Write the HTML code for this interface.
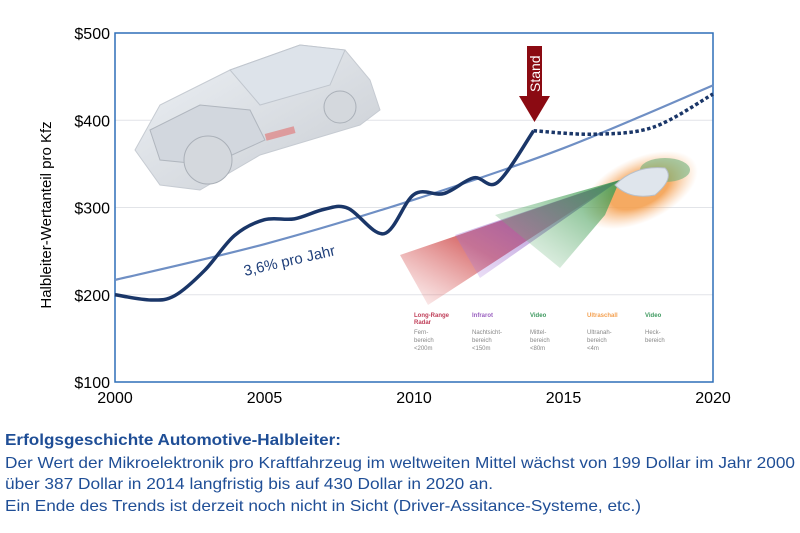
<!DOCTYPE html>
<html><head><meta charset="utf-8"><style>
html,body{margin:0;padding:0;background:#fff;}
svg{display:block;font-family:"Liberation Sans",Arial,sans-serif;}
</style></head><body>
<svg id="chart" width="800" height="533" viewBox="0 0 800 533">
<defs>
<linearGradient id="gRed" x1="1" y1="0" x2="0" y2="1"><stop offset="0" stop-color="#b83a60" stop-opacity="0.95"/><stop offset="0.6" stop-color="#d05050" stop-opacity="0.8"/><stop offset="1" stop-color="#e07070" stop-opacity="0.05"/></linearGradient>
<linearGradient id="gPur" x1="1" y1="0" x2="0" y2="1"><stop offset="0" stop-color="#6a3fa0" stop-opacity="0.95"/><stop offset="1" stop-color="#b080e0" stop-opacity="0.2"/></linearGradient>
<linearGradient id="gGrn" x1="1" y1="0" x2="0" y2="1"><stop offset="0" stop-color="#3f9a50" stop-opacity="0.9"/><stop offset="1" stop-color="#80c090" stop-opacity="0.05"/></linearGradient>
<radialGradient id="gOr" cx="0.5" cy="0.5" r="0.5"><stop offset="0.5" stop-color="#f4a050" stop-opacity="0.9"/><stop offset="1" stop-color="#f8c090" stop-opacity="0"/></radialGradient>
<linearGradient id="gCar" x1="0" y1="0" x2="1" y2="1"><stop offset="0" stop-color="#eef2f6"/><stop offset="1" stop-color="#c8ccd2"/></linearGradient>
</defs>
<g id="grid"></g>

<g>
<path d="M135,150 L160,105 L230,70 L300,45 L345,50 L370,80 L380,110 L360,125 L260,155 L200,190 L160,185 Z" fill="url(#gCar)" stroke="#c6cbd2"/>
<path d="M230,70 L300,45 L345,50 L330,85 L260,105 Z" fill="#dde3ea" stroke="#c0c6ce"/>
<path d="M150,130 L200,105 L250,110 L265,140 L210,165 L160,160 Z" fill="#d2d7de" stroke="#b0b6be"/>
<circle cx="208" cy="160" r="24" fill="#d4d8dd" stroke="#aab0b8"/>
<circle cx="340" cy="107" r="16" fill="#d4d8dd" stroke="#aab0b8"/>
<rect x="265" y="130" width="30" height="7" fill="#e08080" opacity="0.7" transform="rotate(-15 280 133)"/>
</g>

<g>
<ellipse cx="640" cy="190" rx="62" ry="32" fill="url(#gOr)" transform="rotate(-25 640 190)"/>
<ellipse cx="665" cy="170" rx="25" ry="12" fill="#6fb07a" opacity="0.6"/>
<polygon points="620,180 400,255 428,305" fill="url(#gRed)"/>
<polygon points="620,180 455,235 480,278" fill="url(#gPur)"/>
<polygon points="620,180 495,215 560,268 605,215" fill="url(#gGrn)"/>
<path d="M615,185 Q635,165 665,168 Q675,178 655,195 Q630,200 615,185 Z" fill="#dfe5ec" stroke="#b8c0ca"/>
<g font-size="6" fill="#888">
<text x="414" y="317" fill="#c0405a" font-weight="bold">Long-Range</text>
<text x="414" y="324" fill="#c0405a" font-weight="bold">Radar</text>
<text x="414" y="334">Fern-</text><text x="414" y="342">bereich</text><text x="414" y="350">&lt;200m</text>
<text x="472" y="317" fill="#9a60c0" font-weight="bold">Infrarot</text>
<text x="472" y="334">Nachtsicht-</text><text x="472" y="342">bereich</text><text x="472" y="350">&lt;150m</text>
<text x="530" y="317" fill="#3f9a60" font-weight="bold">Video</text>
<text x="530" y="334">Mittel-</text><text x="530" y="342">bereich</text><text x="530" y="350">&lt;80m</text>
<text x="587" y="317" fill="#f4a050" font-weight="bold">Ultraschall</text>
<text x="587" y="334">Ultranah-</text><text x="587" y="342">bereich</text><text x="587" y="350">&lt;4m</text>
<text x="645" y="317" fill="#3f9a60" font-weight="bold">Video</text>
<text x="645" y="334">Heck-</text><text x="645" y="342">bereich</text>
</g>
</g>

<rect x="115" y="33" width="598" height="349" fill="none" stroke="#2e6fb8" stroke-width="1.5"/>
<g id="series"></g>
<text x="245" y="276" font-size="15" fill="#1f3f7a" transform="rotate(-13 245 276)">3,6% pro Jahr</text>

<g>
<rect x="527" y="46" width="15" height="50" fill="#8b0a12"/>
<polygon points="519,96 550,96 534.5,122" fill="#8b0a12"/>
<text x="540" y="92" font-size="14" fill="#fff" transform="rotate(-90 540 92)">Stand</text>
</g>

<g id="axes"></g>
<text x="51" y="215" font-size="15" text-anchor="middle" fill="#000" transform="rotate(-90 51 215)">Halbleiter-Wertanteil pro Kfz</text>

<g fill="#1f4e96" font-size="16">
<text x="5" y="445" font-weight="bold" textLength="336" lengthAdjust="spacingAndGlyphs">Erfolgsgeschichte Automotive-Halbleiter:</text>
<text x="5" y="468" textLength="790" lengthAdjust="spacingAndGlyphs">Der Wert der Mikroelektronik pro Kraftfahrzeug im weltweiten Mittel wächst von 199 Dollar im Jahr 2000</text>
<text x="5" y="489" textLength="488" lengthAdjust="spacingAndGlyphs">über 387 Dollar in 2014 langfristig bis auf 430 Dollar in 2020 an.</text>
<text x="5" y="511" textLength="636" lengthAdjust="spacingAndGlyphs">Ein Ende des Trends ist derzeit noch nicht in Sicht (Driver-Assitance-Systeme, etc.)</text>
</g>
</svg>
<script>
const xTicks = [2000, 2005, 2010, 2015, 2020];
const yTicks = [100, 200, 300, 400, 500];
const yTickLabels = ["$100", "$200", "$300", "$400", "$500"];
const actualYears = [2000, 2001.2, 2002, 2003, 2004, 2005, 2006, 2007, 2007.8, 2009, 2010, 2011, 2012, 2012.8, 2014];
const actualValues = [200, 194, 199, 228, 268, 286, 287, 298, 299, 270, 315, 316, 334, 329, 388];
const forecastYears = [2014, 2016, 2018, 2020];
const forecastValues = [388, 384, 392, 430];
const trendYears = [2000, 2005, 2010, 2015, 2020];
const trendValues = [217, 258, 309, 368, 440];

const NS = "http://www.w3.org/2000/svg";
function xs(v){ return 115 + (v - 2000) / 20 * 598; }
function ys(v){ return 382 - (v - 100) / 400 * 349; }
function mk(tag, attrs, parent){ const e = document.createElementNS(NS, tag); for (const k in attrs) e.setAttribute(k, attrs[k]); parent.appendChild(e); return e; }
function smooth(xa, ya){
  const p = xa.map((x,i)=>[xs(x), ys(ya[i])]);
  let d = "M" + p[0][0] + "," + p[0][1];
  for (let i=0;i<p.length-1;i++){
    const p0=p[Math.max(i-1,0)], p1=p[i], p2=p[i+1], p3=p[Math.min(i+2,p.length-1)];
    const c1=[p1[0]+(p2[0]-p0[0])/6, p1[1]+(p2[1]-p0[1])/6];
    const c2=[p2[0]-(p3[0]-p1[0])/6, p2[1]-(p3[1]-p1[1])/6];
    d += " C"+c1[0]+","+c1[1]+" "+c2[0]+","+c2[1]+" "+p2[0]+","+p2[1];
  }
  return d;
}
const grid = document.getElementById("grid");
yTicks.forEach(v => {
  if (v === 100 || v === 500) return;
  const l = mk("line", {x1:115, x2:713, y1:ys(v), y2:ys(v), stroke:"#e2e4e8", "stroke-width":1}, grid);
  
  
});
const axes = document.getElementById("axes");
yTicks.forEach((v,i) => {
  const t = mk("text", {x:110, y:ys(v)+6, "text-anchor":"end", "font-size":16}, axes);
  t.textContent = yTickLabels[i];
  
  
});
xTicks.forEach(v => {
  const t = mk("text", {x:xs(v), y:403, "text-anchor":"middle", "font-size":16}, axes);
  t.textContent = String(v);
  
  
});
const series = document.getElementById("series");
const tr = mk("path", {d:smooth(trendYears, trendValues), fill:"none", stroke:"#6f8fc4", "stroke-width":2.2}, series);


const fc = mk("path", {d:smooth(forecastYears, forecastValues), fill:"none", stroke:"#1a3668", "stroke-width":3.5, "stroke-dasharray":"3.5,2.5"}, series);


const ac = mk("path", {d:smooth(actualYears, actualValues), fill:"none", stroke:"#1a3668", "stroke-width":3.5, "stroke-linejoin":"round"}, series);


</script>
</body></html>
